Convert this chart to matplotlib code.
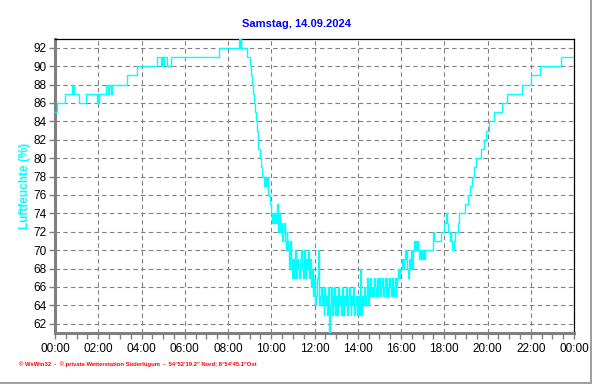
import matplotlib
matplotlib.use("Agg")
import matplotlib.pyplot as plt
import numpy as np
from matplotlib.lines import Line2D

plt.rcParams['font.family'] = ['Liberation Sans', 'DejaVu Sans']

title = "Samstag, 14.09.2024"
ylabel = "Luftfeuchte (%)"
footer = "\u00a9 WsWin32  -  \u00a9 private Wetterstation S\u00fcderl\u00fcgum  -  54\u00b052'19.2\" Nord; 8\u00b054'45.1\"Ost"
xtick_labels = ["00:00", "02:00", "04:00", "06:00", "08:00", "10:00", "12:00",
                "14:00", "16:00", "18:00", "20:00", "22:00", "00:00"]
ytick_values = list(range(62, 93, 2))

# morning (hours, humidity %)
t_morning = [0.00, 0.07, 0.48, 0.77, 0.82, 0.85, 0.88, 1.09, 1.43, 1.92, 1.97, 2.00,
             2.05, 2.35, 2.45, 2.50, 2.58, 2.62, 3.31, 3.77, 4.72, 4.90, 4.95, 5.00,
             5.05, 5.17, 5.35, 7.58, 8.50, 8.55, 8.58, 8.62, 8.87, 9.03, 9.08, 9.12,
             9.16, 9.18, 9.24, 9.31, 9.35, 9.38, 9.41, 9.46, 9.54, 9.58, 9.66, 9.72,
             9.76, 9.80, 9.84, 9.92, 9.98]
h_morning = [85, 86, 87, 88, 87, 88, 87, 86, 87, 86, 87, 86,
             87, 88, 87, 88, 87, 88, 89, 90, 91, 90, 91, 90,
             91, 90, 91, 92, 93, 92, 93, 92, 91, 90, 89, 88,
             87, 86, 85, 84, 83, 82, 81, 80, 79, 78, 77, 78,
             77, 78, 76, 75, 74]

# midday, 2.5-minute readings from 10:00
mid_start = 10.0
mid_step = 2.5 / 60.0
h_10 = [74, 73, 74, 73, 74, 73, 75, 73, 72, 74, 72, 73, 71, 72, 73, 71, 70, 72, 71, 70, 68, 71, 69, 67]
h_11 = [69, 67, 70, 68, 67, 69, 68, 67, 69, 70, 68, 67, 70, 68, 67, 69, 68, 70, 67, 69, 66, 68, 65, 67]
h_12 = [66, 64, 65, 67, 70, 64, 65, 66, 64, 65, 63, 66, 64, 65, 63, 66, 61, 64, 66, 63, 65, 64, 66, 63]
h_13 = [65, 63, 66, 64, 65, 63, 64, 66, 63, 65, 64, 66, 63, 65, 66, 64, 63, 65, 64, 66, 63, 64, 65, 63]
h_14 = [65, 63, 64, 68, 63, 65, 64, 66, 64, 65, 67, 64, 66, 65, 67, 65, 66, 65, 67, 66, 65, 67, 65, 66]
h_15 = [67, 65, 66, 67, 65, 66, 67, 65, 67, 66, 65, 67, 66, 65, 67, 65, 66, 67, 65, 66, 67, 68, 67, 68]
h_16 = [68, 69, 68, 69, 70, 69, 70, 68, 67, 69, 68, 70, 68, 70, 71, 70, 71, 70, 71, 70, 69, 70, 69, 70]
h_17 = [69, 70, 69, 70, 70, 70, 70, 70, 70, 70, 70, 71, 72, 71, 71, 71, 71, 71, 71, 71, 72, 72, 72, 72]
h_18 = [73, 73, 74, 73, 72, 72, 71, 72, 71, 70, 70, 71, 72]

# evening
t_evening = [18.62, 18.66, 18.97, 19.08, 19.18, 19.28, 19.38, 19.49, 19.69, 19.85,
             19.95, 20.05, 20.31, 20.66, 20.88, 21.58, 22.00, 22.42, 23.38, 24.0]
h_evening = [73, 74, 75, 76, 77, 78, 79, 80, 81, 82,
             83, 84, 85, 86, 87, 88, 89, 90, 91, 91]

h_mid = h_10 + h_11 + h_12 + h_13 + h_14 + h_15 + h_16 + h_17 + h_18
t_mid = list(mid_start + mid_step * np.arange(len(h_mid)))

t_all = t_morning + t_mid + t_evening
h_all = h_morning + h_mid + h_evening

fig = plt.figure(figsize=(5.92, 3.84), dpi=100)
W, H = 592.0, 384.0
ax = fig.add_axes([55 / W, 51 / H, 519 / W, 294.5 / H])

ax.step(t_all, h_all, where='post', color='#00FFFF', linewidth=1.0, zorder=3)

ax.set_xlim(0, 24)
ax.set_ylim(61, 93)
ax.set_xticks(np.arange(0, 24.01, 2))
ax.set_xticklabels(xtick_labels)
ax.set_xticks(np.arange(0, 24.01, 0.5), minor=True)
ax.set_yticks(ytick_values)

ax.set_axisbelow(True)
ax.grid(True, which='major', color='#808080', linestyle=(0, (4, 3)), linewidth=0.8)

for side in ['left', 'bottom']:
    ax.spines[side].set_color('#808080')
    ax.spines[side].set_linewidth(2.2)
for side in ['top', 'right']:
    ax.spines[side].set_color('black')
    ax.spines[side].set_linewidth(0.9)

ax.tick_params(axis='both', which='both', direction='out', length=4, width=1,
               color='#808080', labelsize=8.5, labelcolor='black')
ax.tick_params(axis='y', pad=2)
ax.tick_params(axis='x', pad=3)

fig.text(0.5, 1 - 24 / H, title, color='#0000FF', fontweight='bold', fontsize=8,
         ha='center', va='center')
fig.text(25.5 / W, 1 - 186 / H, ylabel, color='#00FFFF', fontweight='bold', fontsize=8.5,
         rotation=90, ha='center', va='center')
fig.text(19 / W, 1 - 364 / H, footer, color='#FF0000', fontweight='bold', fontsize=4.2,
         ha='left', va='center')

fig.add_artist(Line2D([590.5 / W, 590.5 / W], [0, 1], color='#a0a0a0', linewidth=1.5,
                      transform=fig.transFigure))
fig.add_artist(Line2D([0, 591 / W], [1.5 / H, 1.5 / H], color='#a0a0a0', linewidth=1.5,
                      transform=fig.transFigure))

fig.savefig('out.png', dpi=100)
